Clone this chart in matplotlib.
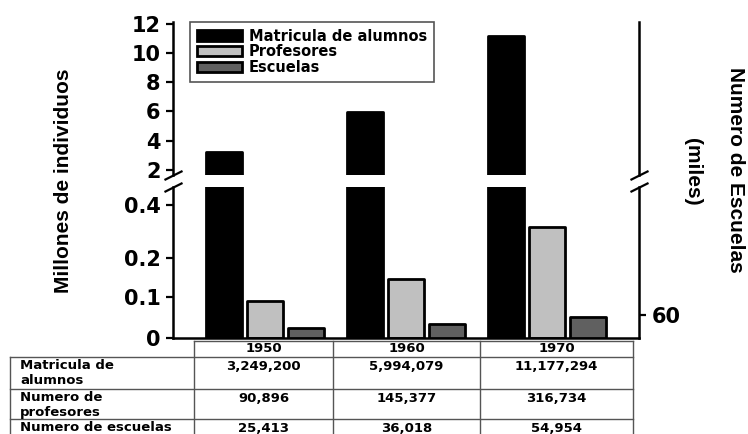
import numpy as np
import matplotlib
matplotlib.use('Agg')
import matplotlib.pyplot as plt

# Datos
anios = ['1950', '1960', '1970']
matricula = [3249200, 5994079, 11177294]
profesores = [90896, 145377, 316734]
escuelas = [25413, 36018, 54954]

series = ['Matricula de alumnos', 'Profesores', 'Escuelas']
filas_tabla = ['Matricula de\nalumnos', 'Numero de\nprofesores', 'Numero de escuelas']

ticks_arriba = [2, 4, 6, 8, 10, 12]
ticks_abajo = [0, 0.1, 0.2, 0.4]
ticks_derecha = [60]

mat_m = np.array(matricula) / 1e6   # millones
prof_m = np.array(profesores) / 1e6  # millones
esc_k = np.array(escuelas) / 1e3     # miles

plt.rcParams['font.weight'] = 'bold'

# escala no lineal del eje inferior (como en el original)
esc_vals = [0, 0.1, 0.2, 0.4, 0.6]
esc_pos = [0, 41, 80, 133, 186]


def fwd(v):
    return np.interp(v, esc_vals, esc_pos)


def inv(p):
    return np.interp(p, esc_pos, esc_vals)


fig = plt.figure(figsize=(7.48, 4.34), dpi=100)

# tabla (capa de fondo en pixeles)
tab = fig.add_axes([0, 0, 1, 1])
tab.set_xlim(0, 748)
tab.set_ylim(434, 0)
tab.axis('off')

ax_top = fig.add_axes([0.2313, 0.5968, 0.623, 0.3525])
ax_bot = fig.add_axes([0.2313, 0.2212, 0.623, 0.3479])
ax_esc = ax_bot.twinx()

x = np.arange(len(anios))
w = 0.26
off = 0.29
lw = 2

b_mat = ax_top.bar(x - off, mat_m, w, color='black', edgecolor='black', lw=lw)
ax_bot.bar(x - off, mat_m, w, color='black', edgecolor='black', lw=lw)
b_prof = ax_bot.bar(x, prof_m, w, color='#c0c0c0', edgecolor='black', lw=lw)
b_esc = ax_esc.bar(x + off, esc_k, w, color='#606060', edgecolor='black', lw=lw)
for ax in (ax_top, ax_bot, ax_esc):
    for p in ax.patches:
        p.set_joinstyle('round')

for ax in (ax_top, ax_bot, ax_esc):
    ax.set_xlim(-0.652, 2.652)
    ax.tick_params(axis='x', bottom=False, labelbottom=False)
    ax.tick_params(axis='y', direction='out', length=5, width=1.6,
                   labelsize=15, pad=4)
    for s in ax.spines.values():
        s.set_linewidth(1.8)

# eje superior
ax_top.set_ylim(1.65, 12.12)
ax_top.set_yticks(ticks_arriba)
ax_top.spines['top'].set_visible(False)
ax_top.spines['bottom'].set_visible(False)
ax_top.tick_params(axis='y', right=False)

# eje inferior
ax_bot.set_yscale('function', functions=(fwd, inv))
ax_bot.set_ylim(0, 0.468)
ax_bot.set_yticks(ticks_abajo)
ax_bot.set_yticklabels([f'{t:g}' for t in ticks_abajo])
ax_bot.minorticks_off()
ax_bot.spines['top'].set_visible(False)
ax_bot.spines['right'].set_visible(False)

# eje derecho (escuelas, miles)
ax_esc.set_ylim(0, 394)
ax_esc.set_yticks(ticks_derecha)
for s in ('top', 'left', 'bottom'):
    ax_esc.spines[s].set_visible(False)

# marcas de corte
d = 0.5
kw = dict(marker=[(-1, -d), (1, d)], markersize=13, linestyle='none',
          color='k', mec='k', mew=1.6, clip_on=False)
ax_top.plot([0, 1], [0, 0], transform=ax_top.transAxes, **kw)
ax_bot.plot([0, 1], [1, 1], transform=ax_bot.transAxes, **kw)

# etiquetas
fig.text(64 / 748, 1 - 181 / 434, 'Millones de individuos', rotation=90,
         ha='center', va='center', fontsize=15, family='Liberation Sans')
fig.text(735 / 748, 1 - 170 / 434, 'Numero de Escuelas', rotation=270,
         ha='center', va='center', fontsize=15, family='Liberation Sans')
fig.text(693 / 748, 1 - 172 / 434, '(miles)', rotation=270,
         ha='center', va='center', fontsize=15, family='Liberation Sans')

# leyenda
leg = fig.legend([b_mat, b_prof, b_esc], series, loc='upper left',
                 bbox_to_anchor=(190 / 748, 1 - 22 / 434), borderaxespad=0,
                 fontsize=10.5, handlelength=3.1, handleheight=0.7,
                 handletextpad=0.5, labelspacing=0.05, borderpad=0.45,
                 fancybox=False, framealpha=1)
leg.get_frame().set_edgecolor('#555555')
leg.get_frame().set_linewidth(1.2)

# tabla
col_edges = [10, 194, 333, 480, 633]
row_edges = [341, 357, 389, 419, 470]
lc = '#555555'
tab.plot([col_edges[1], col_edges[-1]], [row_edges[0]] * 2, color=lc, lw=1)
for yy in row_edges[1:4]:
    tab.plot([col_edges[0], col_edges[-1]], [yy, yy], color=lc, lw=1)
tab.plot([col_edges[0]] * 2, [row_edges[1], row_edges[-1]], color=lc, lw=1)
for xx in col_edges[1:]:
    tab.plot([xx, xx], [row_edges[0], row_edges[-1]], color=lc, lw=1)

centros = [(col_edges[i] + col_edges[i + 1]) / 2 for i in range(1, 4)]
for cx, a in zip(centros, anios):
    tab.text(cx, (row_edges[0] + row_edges[1]) / 2, a, ha='center',
             va='center', fontsize=9.5)

valores = [matricula, profesores, escuelas]
for i, (nombre, fila) in enumerate(zip(filas_tabla, valores)):
    y0 = row_edges[i + 1]
    tab.text(col_edges[0] + 10, y0 + 2, nombre, ha='left', va='top',
             fontsize=9.5, linespacing=1.2)
    for cx, v in zip(centros, fila):
        tab.text(cx, y0 + 9, f'{v:,}', ha='center', va='center', fontsize=9.5)

fig.savefig('out.png', dpi=100)
